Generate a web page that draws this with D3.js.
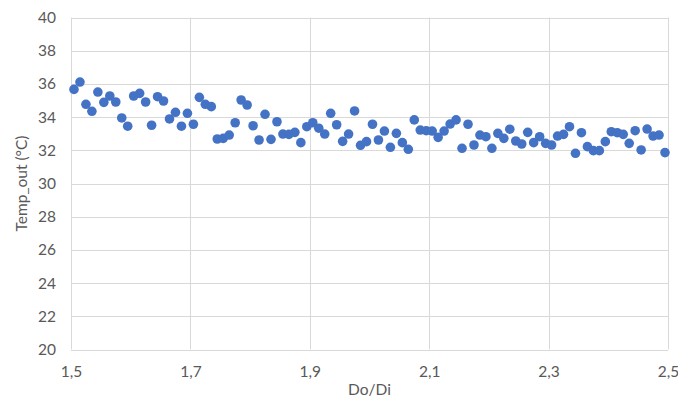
<!DOCTYPE html>
<html>
<head>
<meta charset="utf-8">
<script src="https://cdn.jsdelivr.net/npm/d3@7"></script>
<style>
  html, body { margin: 0; padding: 0; background: #fff; }
  svg { display: block; }
  text { font-family: Lato, "Open Sans", sans-serif; fill: #595959; }
</style>
</head>
<body>
<svg id="chart" width="678" height="400"></svg>
<script>
// Data
const doDi = d3.range(100).map(i => +(1.505 + i * 0.01).toFixed(3));
const tempOut = [
  35.67, 36.11, 34.77, 34.35, 35.51, 34.89, 35.27, 34.91, 33.95, 33.45,
  35.27, 35.43, 34.91, 33.51, 35.23, 34.97, 33.89, 34.29, 33.45, 34.23,
  33.57, 35.19, 34.77, 34.63, 32.68, 32.72, 32.92, 33.66, 35.03, 34.73,
  33.48, 32.62, 34.17, 32.66, 33.72, 32.98, 32.96, 33.08, 32.46, 33.42,
  33.66, 33.33, 32.98, 34.23, 33.54, 32.54, 32.98, 34.37, 32.30, 32.52,
  33.57, 32.62, 33.16, 32.18, 33.02, 32.46, 32.06, 33.83, 33.22, 33.18,
  33.16, 32.78, 33.16, 33.58, 33.83, 32.12, 33.57, 32.32, 32.92, 32.82,
  32.12, 33.02, 32.72, 33.27, 32.56, 32.38, 33.08, 32.46, 32.82, 32.42,
  32.32, 32.86, 32.96, 33.42, 31.82, 33.06, 32.22, 31.98, 31.98, 32.52,
  33.12, 33.06, 32.96, 32.42, 33.18, 32.02, 33.28, 32.86, 32.92, 31.86
];
const xTicks = [1.5, 1.7, 1.9, 2.1, 2.3, 2.5];
const yTicks = [20, 22, 24, 26, 28, 30, 32, 34, 36, 38, 40];
const xTitle = "Do/Di";
const yTitle = "Temp_out (°C)";

const points = doDi.map((x, i) => ({ x, y: tempOut[i] }));

const svg = d3.select("#chart");
const mLeft = 71, mRight = 668, mTop = 17.5, mBottom = 349.5;
const fontSize = "15.5px";

const x = d3.scaleLinear().domain([1.5, 2.5]).range([mLeft, mRight]);
const y = d3.scaleLinear().domain([20, 40]).range([mBottom, mTop]);
const fmt = d => d3.format(".1f")(d).replace(".", ",");

// gridlines
const grid = svg.append("g");
grid.selectAll("line.h").data(yTicks).join("line")
  .attr("x1", mLeft).attr("x2", mRight)
  .attr("y1", d => Math.round(y(d)) + 0.5).attr("y2", d => Math.round(y(d)) + 0.5)
  .attr("stroke", "#d9d9d9").attr("stroke-width", 1);
grid.selectAll("line.v").data(xTicks).join("line")
  .attr("y1", mTop).attr("y2", mBottom)
  .attr("x1", d => Math.round(x(d)) + 0.5).attr("x2", d => Math.round(x(d)) + 0.5)
  .attr("stroke", "#d9d9d9").attr("stroke-width", 1);

// axes (labels only)
const yAxis = svg.append("g").attr("transform", `translate(${mLeft},0)`)
  .call(d3.axisLeft(y).tickValues(yTicks).tickSize(0).tickPadding(15));
yAxis.select(".domain").remove();
yAxis.selectAll("text").style("font-size", fontSize).attr("fill", "#595959")
  .style("font-family", "Lato, 'Open Sans', sans-serif");

const xAxis = svg.append("g").attr("transform", `translate(0,${mBottom})`)
  .call(d3.axisBottom(x).tickValues(xTicks).tickFormat(fmt).tickSize(0).tickPadding(16));
xAxis.select(".domain").remove();
xAxis.selectAll("text").style("font-size", fontSize).attr("fill", "#595959")
  .style("font-family", "Lato, 'Open Sans', sans-serif");

// points
svg.append("g").selectAll("circle").data(points).join("circle")
  .attr("cx", d => x(d.x)).attr("cy", d => y(d.y))
  .attr("r", 4.8).attr("fill", "#4472C4");

// titles
svg.append("text").attr("x", (mLeft + mRight) / 2).attr("y", 395)
  .attr("text-anchor", "middle").style("font-size", fontSize).text(xTitle);
svg.append("text")
  .attr("transform", `translate(27,${(mTop + mBottom) / 2}) rotate(-90)`)
  .attr("text-anchor", "middle").style("font-size", fontSize).text(yTitle);
</script>
</body>
</html>
